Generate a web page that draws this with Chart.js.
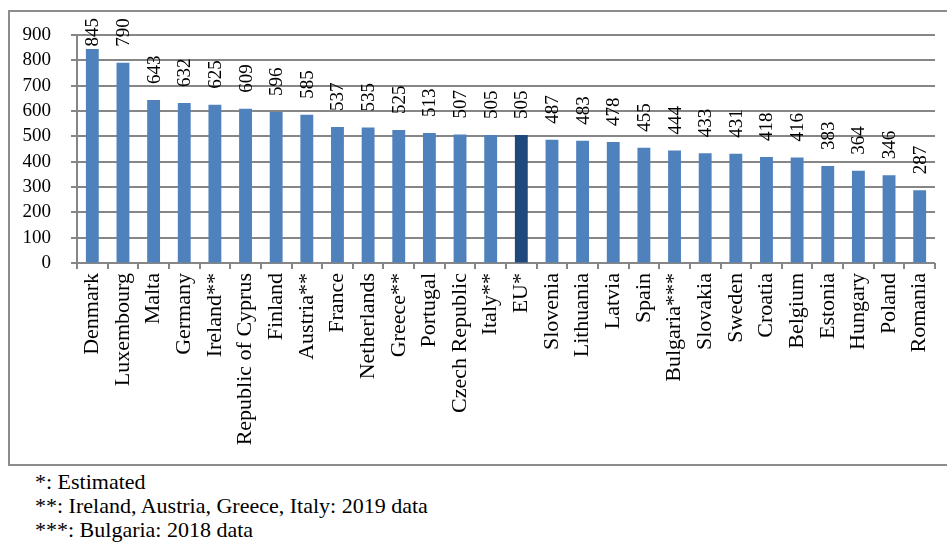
<!DOCTYPE html>
<html>
<head>
<meta charset="utf-8">
<script src="https://cdn.jsdelivr.net/npm/chart.js@4"></script>
<style>
  html, body { margin: 0; padding: 0; background: #fff; width: 947px; height: 543px; overflow: hidden; }
  #box { position: absolute; left: 8px; top: 10px; width: 960px; height: 456px; border: 2px solid #8c8c8c; box-sizing: border-box; }
  #wrap { position: absolute; left: 0; top: 0; width: 947px; height: 463px; }
  .note { position: absolute; left: 35px; font-family: "Liberation Serif", Tinos, "DejaVu Serif", serif; font-size: 22px; line-height: 24px; color: #000; white-space: nowrap; }
</style>
</head>
<body>
<div id="box"></div>
<div id="wrap"><canvas id="c" width="947" height="463"></canvas></div>
<div class="note" style="top:470px">*: Estimated</div>
<div class="note" style="top:494px">**: Ireland, Austria, Greece, Italy: 2019 data</div>
<div class="note" style="top:518px">***: Bulgaria: 2018 data</div>
<script>
const categories = ["Denmark","Luxembourg","Malta","Germany","Ireland**","Republic of Cyprus","Finland","Austria**","France","Netherlands","Greece**","Portugal","Czech Republic","Italy**","EU*","Slovenia","Lithuania","Latvia","Spain","Bulgaria***","Slovakia","Sweden","Croatia","Belgium","Estonia","Hungary","Poland","Romania"];
const values = [845,790,643,632,625,609,596,585,537,535,525,513,507,505,505,487,483,478,455,444,433,431,418,416,383,364,346,287];
const highlight = "EU*";
const yMin = 0, yMax = 900, yStep = 100;

const FONT = '"Liberation Serif", Tinos, "DejaVu Serif", serif';
const GRID = '#868686';
const colors = categories.map(c => c === highlight ? '#1F497D' : '#4F81BD');

const gridPlugin = {
  id: 'hgrid',
  beforeDatasetsDraw(chart) {
    const ctx = chart.ctx, ys = chart.scales.y, a = chart.chartArea;
    ctx.save();
    ctx.strokeStyle = GRID;
    ctx.lineWidth = 2;
    for (let v = yMin; v <= yMax; v += yStep) {
      const y = Math.round(ys.getPixelForValue(v));
      ctx.beginPath();
      ctx.moveTo(a.left - 6, y);
      ctx.lineTo(a.right, y);
      ctx.stroke();
    }
    ctx.restore();
  }
};

const labelPlugin = {
  id: 'vlabels',
  afterDatasetsDraw(chart) {
    const ctx = chart.ctx;
    const meta = chart.getDatasetMeta(0);
    ctx.save();
    ctx.font = '19px ' + FONT;
    ctx.fillStyle = '#000';
    ctx.textBaseline = 'middle';
    ctx.textAlign = 'left';
    meta.data.forEach((bar, i) => {
      const txt = String(values[i]);
      const w = ctx.measureText(txt).width;
      let start = bar.y - 16;
      if (start - w < 18) start = 18 + w;
      ctx.save();
      ctx.translate(bar.x, start);
      ctx.rotate(-Math.PI / 2);
      ctx.fillText(txt, 0, 1);
      ctx.restore();
    });
    ctx.restore();
  }
};

function draw() {
new Chart(document.getElementById('c'), {
  type: 'bar',
  data: {
    labels: categories,
    datasets: [{
      data: values,
      backgroundColor: colors,
      borderWidth: 0,
      categoryPercentage: 1.0,
      barPercentage: 0.42
    }]
  },
  options: {
    responsive: false,
    animation: false,
    devicePixelRatio: 1,
    layout: { padding: { top: 35, right: 12, left: 0, bottom: 0 } },
    plugins: { legend: { display: false }, tooltip: { enabled: false } },
    scales: {
      x: {
        grid: { offset: true, drawOnChartArea: false, color: GRID, tickLength: 6, lineWidth: 2 },
        border: { color: GRID, width: 1 },
        ticks: { autoSkip: false, minRotation: 90, maxRotation: 90, padding: 4, color: '#000', font: { family: FONT, size: 22, lineHeight: 1 } },
        afterFit(scale) { scale.height = 200; }
      },
      y: {
        min: yMin, max: yMax,
        grid: { color: 'rgba(0,0,0,0)', tickLength: 6, lineWidth: 1 },
        border: { color: GRID, width: 2 },
        ticks: { stepSize: yStep, autoSkip: false, padding: 20, color: '#000', font: { family: FONT, size: 19, lineHeight: 1 } },
        afterFit(scale) { scale.width = 77; }
      }
    }
  },
  plugins: [gridPlugin, labelPlugin]
});
}
if (document.fonts && document.fonts.load) {
  Promise.all([document.fonts.load('19px "Liberation Serif"'), document.fonts.load('22px "Liberation Serif"')]).then(draw, draw);
} else { draw(); }
</script>
</body>
</html>
